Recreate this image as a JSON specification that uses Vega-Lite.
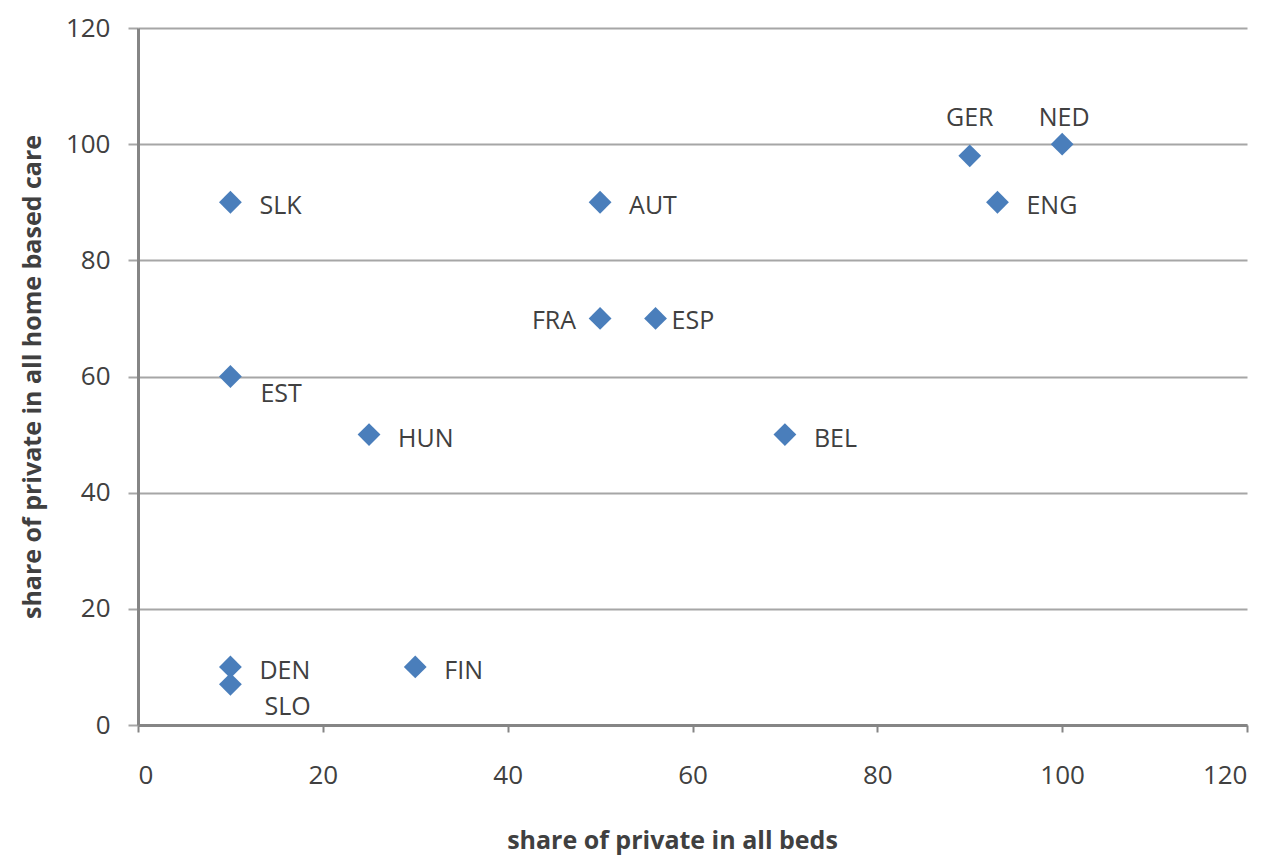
{
  "$schema": "https://vega.github.io/schema/vega-lite/v6.json",
  "autosize": "none",
  "width": 1109,
  "height": 697,
  "padding": {"left": 138, "top": 28, "right": 26, "bottom": 132},
  "background": "white",
  "config": {
    "view": {"stroke": null},
    "font": "Open Sans"
  },
  "data": {
    "values": [
      {"country": "SLK", "beds": 10, "home": 90},
      {"country": "AUT", "beds": 50, "home": 90},
      {"country": "GER", "beds": 90, "home": 98},
      {"country": "NED", "beds": 100, "home": 100},
      {"country": "ENG", "beds": 93, "home": 90},
      {"country": "FRA", "beds": 50, "home": 70},
      {"country": "ESP", "beds": 56, "home": 70},
      {"country": "EST", "beds": 10, "home": 60},
      {"country": "HUN", "beds": 25, "home": 50},
      {"country": "BEL", "beds": 70, "home": 50},
      {"country": "DEN", "beds": 10, "home": 10},
      {"country": "SLO", "beds": 10, "home": 7},
      {"country": "FIN", "beds": 30, "home": 10}
    ]
  },
  "encoding": {
    "x": {
      "field": "beds", "type": "quantitative",
      "scale": {"domain": [0, 120], "nice": false},
      "axis": {
        "values": [0, 20, 40, 60, 80, 100, 120],
        "title": "share  of private in all beds",
        "titleFont": "Open Sans", "titleFontSize": 25, "titleFontWeight": "bold", "titleColor": "#404040",
        "titlePadding": 40, "titleX": 534,
        "labelFont": "Open Sans", "labelFontSize": 26, "labelColor": "#404040", "labelPadding": 30,
        "domainColor": "#858585", "domainWidth": 3,
        "tickColor": "#858585", "tickWidth": 2, "tickSize": 7,
        "grid": false
      }
    },
    "y": {
      "field": "home", "type": "quantitative",
      "scale": {"domain": [0, 120], "nice": false},
      "axis": {
        "values": [0, 20, 40, 60, 80, 100, 120],
        "title": "share of private in all home based care",
        "titleFont": "Open Sans", "titleFontSize": 25, "titleFontWeight": "bold", "titleColor": "#404040",
        "titlePadding": 20,
        "labelFont": "Open Sans", "labelFontSize": 26, "labelColor": "#404040", "labelPadding": 18,
        "domainColor": "#858585", "domainWidth": 3,
        "tickColor": "#a6a6a6", "tickWidth": 2, "tickSize": 10,
        "grid": true, "gridColor": "#a6a6a6", "gridWidth": 2
      }
    }
  },
  "layer": [
    {
      "mark": {"type": "point", "shape": "diamond", "filled": true, "size": 520, "color": "#4a7ebb", "opacity": 1}
    },
    {
      "transform": [{"filter": {"field": "country", "oneOf": ["SLK", "AUT", "ENG", "HUN", "BEL", "DEN", "FIN"]}}],
      "mark": {"type": "text", "align": "left", "baseline": "middle", "dx": 29, "dy": 4, "fontSize": 25, "color": "#404040"},
      "encoding": {"text": {"field": "country"}}
    },
    {
      "transform": [{"filter": {"field": "country", "equal": "ESP"}}],
      "mark": {"type": "text", "align": "left", "baseline": "middle", "dx": 16, "dy": 3, "fontSize": 25, "color": "#404040"},
      "encoding": {"text": {"field": "country"}}
    },
    {
      "transform": [{"filter": {"field": "country", "equal": "FRA"}}],
      "mark": {"type": "text", "align": "right", "baseline": "middle", "dx": -24, "dy": 3, "fontSize": 25, "color": "#404040"},
      "encoding": {"text": {"field": "country"}}
    },
    {
      "transform": [{"filter": {"field": "country", "equal": "EST"}}],
      "mark": {"type": "text", "align": "left", "baseline": "middle", "dx": 30, "dy": 17, "fontSize": 25, "color": "#404040"},
      "encoding": {"text": {"field": "country"}}
    },
    {
      "transform": [{"filter": {"field": "country", "equal": "SLO"}}],
      "mark": {"type": "text", "align": "left", "baseline": "middle", "dx": 34, "dy": 23, "fontSize": 25, "color": "#404040"},
      "encoding": {"text": {"field": "country"}}
    },
    {
      "transform": [{"filter": {"field": "country", "equal": "GER"}}],
      "mark": {"type": "text", "align": "center", "baseline": "middle", "dx": 0, "dy": -38, "fontSize": 25, "color": "#404040"},
      "encoding": {"text": {"field": "country"}}
    },
    {
      "transform": [{"filter": {"field": "country", "equal": "NED"}}],
      "mark": {"type": "text", "align": "center", "baseline": "middle", "dx": 2, "dy": -26, "fontSize": 25, "color": "#404040"},
      "encoding": {"text": {"field": "country"}}
    }
  ]
}
